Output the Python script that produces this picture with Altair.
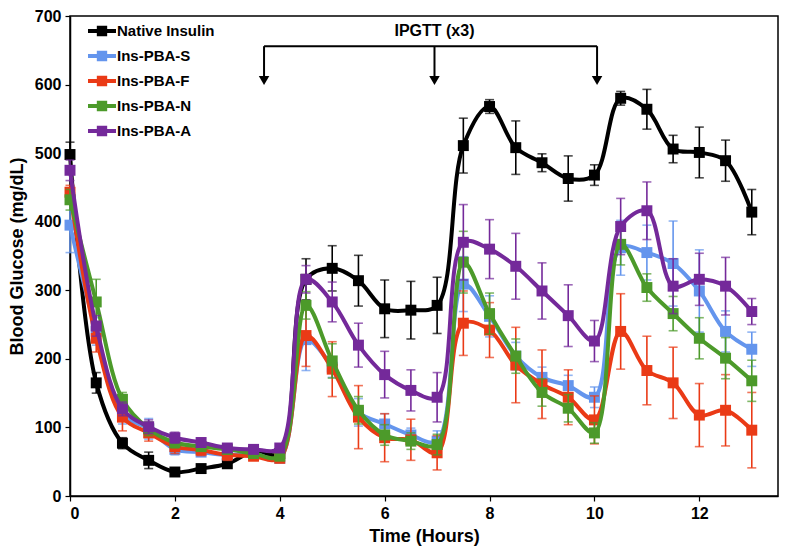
import altair as alt
import pandas as pd

hours = [0, 0.5, 1, 1.5, 2, 2.5, 3, 3.5, 4, 4.5, 5, 5.5, 6, 6.5, 7, 7.5, 8, 8.5,
         9, 9.5, 10, 10.5, 11, 11.5, 12, 12.5, 13]

series_names = ["Native Insulin", "Ins-PBA-S", "Ins-PBA-F", "Ins-PBA-N", "Ins-PBA-A"]
series_colors = ["#000000", "#6495ED", "#EA3A16", "#4C9A2A", "#74299A"]

native = [498, 165, 77, 52, 35, 40, 47, 65, 62, 316, 332, 314, 273, 271, 278, 511, 568, 508,
          486, 463, 468, 580, 564, 506, 501, 489, 414]
native_err = [18, 15, 8, 12, 5, 5, 5, 5, 5, 30, 33, 37, 42, 42, 41, 40, 10, 39,
              13, 33, 15, 10, 29, 20, 37, 30, 33]

pba_s = [395, 240, 120, 98, 68, 64, 60, 62, 55, 228, 188, 122, 105, 89, 80, 309, 262, 204,
         173, 161, 144, 362, 355, 339, 299, 240, 214]
pba_s_err = [40, 20, 15, 15, 8, 6, 6, 6, 5, 45, 15, 20, 15, 10, 15, 40, 30, 20,
             15, 15, 15, 40, 40, 62, 60, 30, 25]

pba_f = [443, 230, 115, 92, 72, 67, 60, 58, 55, 234, 185, 115, 85, 82, 63, 252, 242, 191,
         163, 144, 111, 240, 183, 165, 118, 125, 96]
pba_f_err = [10, 20, 20, 12, 10, 8, 8, 6, 6, 45, 40, 46, 35, 30, 25, 47, 40, 55,
             50, 40, 35, 55, 50, 52, 46, 52, 55]

pba_n = [432, 283, 141, 98, 78, 72, 68, 62, 58, 278, 197, 125, 89, 80, 75, 341, 266, 204,
         151, 128, 92, 367, 304, 266, 230, 201, 168]
pba_n_err = [15, 33, 10, 10, 8, 6, 6, 6, 5, 20, 25, 20, 15, 12, 15, 45, 30, 25,
             20, 20, 15, 30, 20, 25, 30, 30, 30]

pba_a = [475, 248, 127, 101, 85, 78, 70, 68, 70, 316, 283, 220, 177, 154, 144, 370, 360, 335,
         299, 263, 226, 393, 416, 306, 316, 306, 269]
pba_a_err = [15, 15, 10, 10, 8, 6, 6, 6, 6, 20, 29, 32, 34, 30, 36, 55, 43, 48,
             41, 45, 30, 41, 42, 40, 38, 42, 19]

# annotation (IPGTT injections)
ipgtt_times = [3.7, 6.95, 10.05]
ipgtt_label = "IPGTT (x3)"
bracket_level = 656
arrow_level = 606
label_level = 667

all_vals = [native, pba_s, pba_f, pba_n, pba_a]
all_errs = [native_err, pba_s_err, pba_f_err, pba_n_err, pba_a_err]

FONT = "Liberation Sans"
YTITLE = "Blood Glucose (mg/dL)"

xscale = alt.Scale(domain=[0, 13.5], nice=False)
yscale = alt.Scale(domain=[0, 700], nice=False)
xaxis = alt.Axis(values=[0, 2, 4, 6, 8, 10, 12], title="Time (Hours)", grid=False)
yaxis = alt.Axis(values=list(range(0, 701, 100)), title=YTITLE, grid=False)
cscale = alt.Scale(domain=series_names, range=series_colors)

legend_path = "M-1,-0.14H1V0.14H-1Z M-0.37,-0.37H0.37V0.37H-0.37Z"
legend = alt.Legend(
    title=None, orient="none", legendX=18, legendY=1,
    symbolType=legend_path, symbolSize=784, symbolStrokeWidth=0,
    labelFont=FONT, labelFontWeight="bold", labelFontSize=15, labelColor="black",
    labelOffset=1, rowPadding=3,
)

layers = []
for name, colr, vals, errs in zip(series_names, series_colors, all_vals, all_errs):
    df = pd.DataFrame({
        "hours": hours,
        "glucose": vals,
        "lo": [v - e for v, e in zip(vals, errs)],
        "hi": [v + e for v, e in zip(vals, errs)],
        "series": [name] * len(hours),
    })
    base = alt.Chart(df)
    x = alt.X("hours:Q", scale=xscale, axis=xaxis)
    rule = base.mark_rule(strokeWidth=1.6, color=colr).encode(
        x=x, y=alt.Y("lo:Q", scale=yscale, axis=yaxis), y2="hi:Q")
    cap_lo = base.mark_tick(orient="horizontal", size=9, thickness=1.6, color=colr).encode(
        x=x, y=alt.Y("lo:Q", scale=yscale, axis=yaxis))
    cap_hi = base.mark_tick(orient="horizontal", size=9, thickness=1.6, color=colr).encode(
        x=x, y=alt.Y("hi:Q", scale=yscale, axis=yaxis))
    line = base.mark_line(interpolate="catmull-rom", strokeWidth=4, color=colr).encode(
        x=x, y=alt.Y("glucose:Q", scale=yscale, axis=yaxis))
    pts = base.mark_point(shape="square", filled=True, size=120, opacity=1).encode(
        x=x, y=alt.Y("glucose:Q", scale=yscale, axis=yaxis),
        color=alt.Color("series:N", scale=cscale, legend=legend))
    layers += [rule, cap_lo, cap_hi, line, pts]

# IPGTT bracket annotation
ann = pd.DataFrame({"hours": ipgtt_times, "top": [bracket_level] * 3, "tip": [arrow_level] * 3})
bracket_df = pd.DataFrame({"x1": [min(ipgtt_times)], "x2": [max(ipgtt_times)], "y": [bracket_level]})
label_df = pd.DataFrame({"hours": [ipgtt_times[1]], "y": [label_level], "label": [ipgtt_label]})

bracket = alt.Chart(bracket_df).mark_rule(color="black", strokeWidth=2).encode(
    x=alt.X("x1:Q", scale=xscale, axis=xaxis), x2="x2:Q",
    y=alt.Y("y:Q", scale=yscale, axis=yaxis))
drops = alt.Chart(ann).mark_rule(color="black", strokeWidth=2).encode(
    x=alt.X("hours:Q", scale=xscale, axis=xaxis),
    y=alt.Y("top:Q", scale=yscale, axis=yaxis), y2="tip:Q")
heads = alt.Chart(ann).mark_point(shape="triangle-down", filled=True, color="black",
                                  size=110, opacity=1).encode(
    x=alt.X("hours:Q", scale=xscale, axis=xaxis),
    y=alt.Y("tip:Q", scale=yscale, axis=yaxis))
label = alt.Chart(label_df).mark_text(font=FONT, fontWeight="bold", fontSize=16,
                                      color="black", baseline="bottom").encode(
    x=alt.X("hours:Q", scale=xscale, axis=xaxis),
    y=alt.Y("y:Q", scale=yscale, axis=yaxis), text="label:N")

layers += [bracket, drops, heads, label]

chart = alt.layer(*layers).properties(
    width=708, height=480,
    padding={"left": 0, "top": 0, "right": 5, "bottom": 2},
).configure_axis(
    labelFont=FONT, labelFontWeight="bold", labelFontSize=16, labelColor="black",
    titleFont=FONT, titleFontWeight="bold", titleFontSize=18, titleColor="black",
    domainColor="black", domainWidth=1.5, tickColor="black", tickWidth=1.2, tickSize=5,
    labelPadding=4,
).configure_axisY(titlePadding=8).configure_axisX(titlePadding=6).configure_view(
    stroke="black", strokeWidth=1.5
)

chart.save("out.html", embed_options={"renderer": "svg", "actions": False})
